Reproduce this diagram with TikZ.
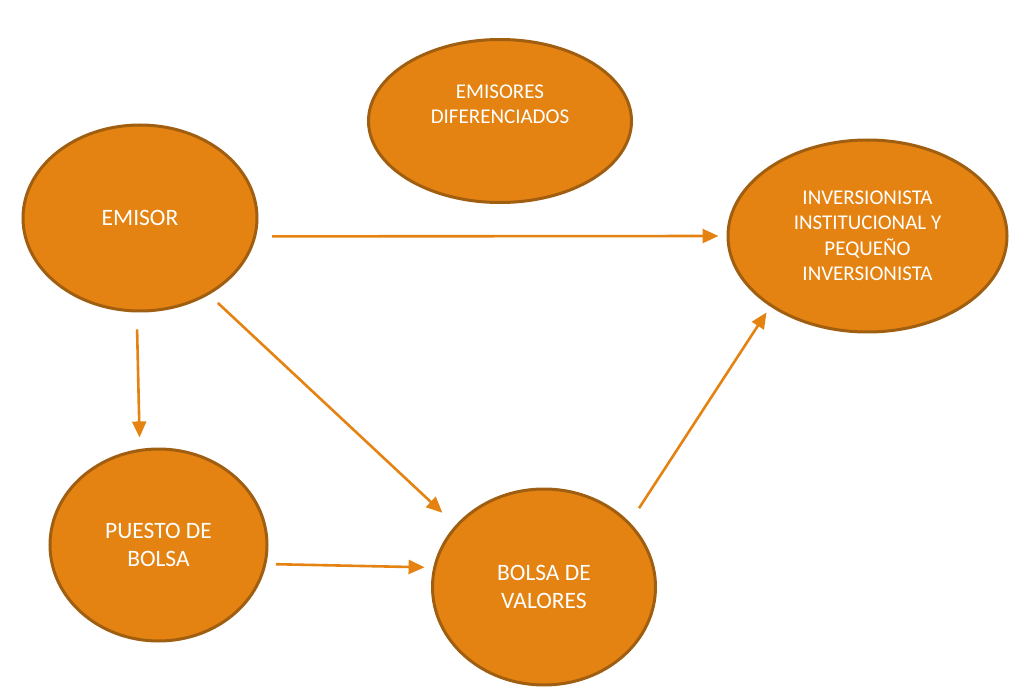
\documentclass[tikz,border=0pt]{standalone}
\usepackage{fontspec}
\setmainfont{Carlito}
\usepackage{tikz}
\usetikzlibrary{arrows.meta,shapes.geometric}
\definecolor{naranja}{HTML}{E48312}
\definecolor{borde}{HTML}{A05E10}
\tikzset{>={Triangle[length=16pt,width=14pt]},
         bubble/.style={ellipse,draw=borde,line width=3pt,fill=naranja,
           text=white,align=center,inner sep=0pt,
           font=\fontsize{23.5}{28.3}\selectfont},
         small text/.style={font=\fontsize{21}{25.5}\selectfont},
         flow/.style={->,color=naranja,line width=2.6pt}}

\begin{document}
\begin{tikzpicture}[x=1pt,y=-1pt]
            \useasboundingbox (0,0) rectangle (1013,687);
            \node[bubble,small text,minimum width=263pt,minimum height=163pt]
                 (difer) at (500,121) {EMISORES\\DIFERENCIADOS\\\strut};
            \node[bubble,minimum width=234pt,minimum height=186pt]
                 (emisor) at (140,218) {EMISOR};
            \node[bubble,small text,minimum width=279pt,minimum height=192pt]
                 (inversor) at (867.5,236) {INVERSIONISTA\\INSTITUCIONAL Y\\PEQUEÑO\\INVERSIONISTA};
            \node[bubble,minimum width=217pt,minimum height=192pt]
                 (puesto) at (158.5,545) {PUESTO DE\\BOLSA};
            \node[bubble,minimum width=223pt,minimum height=196pt]
                 (bolsa) at (544,587) {BOLSA DE\\VALORES};
            \path (emisor.-9.8) edge[flow,shorten <=16pt,shorten >=8pt]
                 (inversor.180) (emisor.-92.7) edge[flow,shorten <=17pt,
                 shorten >=11.5pt] (puesto.101.4) (emisor.-48.4)
                 edge[flow,shorten <=12pt,shorten >=18pt] (bolsa.145.6)
                 (puesto.-10.6) edge[flow,shorten <=9.5pt,shorten >=8.6pt]
                 (bolsa.170.2) (bolsa.37.5) edge[flow,shorten <=16.8pt,
                 shorten >=6.9pt] (inversor.216);
          \end{tikzpicture}
\end{document}
